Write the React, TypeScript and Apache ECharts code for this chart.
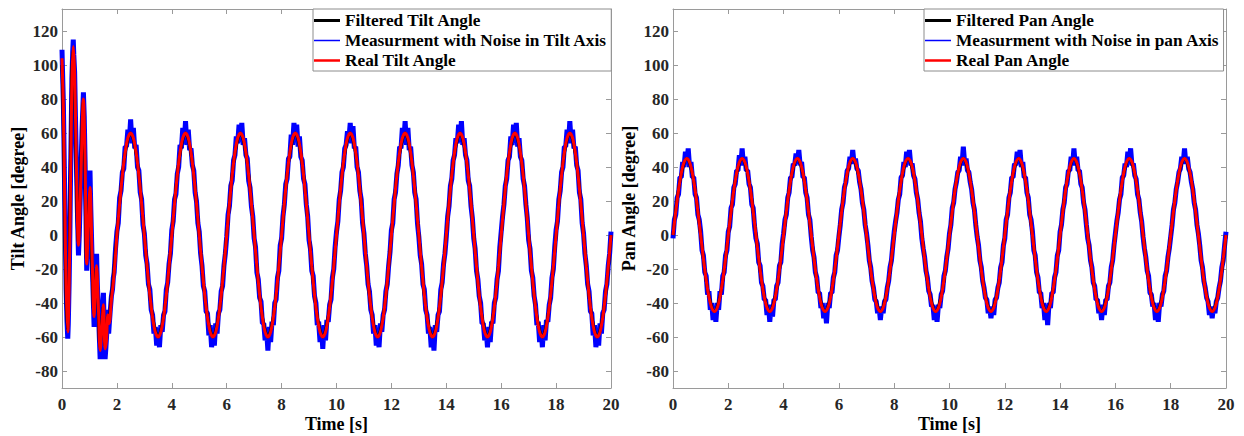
import { useEffect, useRef } from "react";
import * as echarts from "echarts";

// ---------- tick labels ----------
const yTicks = [-80, -60, -40, -20, 0, 20, 40, 60, 80, 100, 120];
const Y_MIN = -90;
const Y_MAX = 133;
const X_MIN = 0;
const X_MAX = 20;
const X_INTERVAL = 2;

// ---------- series names ----------
const tiltNames = ["Filtered Tilt Angle", "Measurment with Noise in Tilt Axis", "Real Tilt Angle"];
const panNames = ["Filtered Pan Angle", "Measurment with Noise in pan Axis", "Real Pan Angle"];

// ---------- sampling grids (seconds) ----------
const REAL_STEP = 0.1;
const FILTERED_STEP = 0.25;
const NOISY_STEP = 0.05;
const TILT_STEADY_START = 2;
const PAN_START = 0;

// ---------- Tilt: transient part (0 - 2 s) ----------
const tiltRealTransientTime = [0, 0.05, 0.1, 0.15, 0.21, 0.26, 0.31, 0.36, 0.41, 0.46, 0.52, 0.6, 0.68, 0.78, 0.84, 0.9, 0.96, 1.02, 1.1, 1.17, 1.22, 1.26, 1.32, 1.39, 1.45, 1.51, 1.57, 1.62, 1.67, 1.72, 1.8, 1.87, 1.95];
const tiltRealTransient = [104, 75, 20, -30, -57, -30, 30, 90, 111, 95, 45, -6, 30, 80, 45, -17, 5, 28, -15, -48, -30, -18, -40, -68, -55, -41, -67, -62, -47, -52, -38, -28, -12];

const tiltFilteredTransientTime = [0, 0.04, 0.09, 0.14, 0.2, 0.25, 0.3, 0.35, 0.4, 0.45, 0.51, 0.59, 0.67, 0.77, 0.83, 0.89, 0.95, 1.01, 1.09, 1.16, 1.21, 1.25, 1.31, 1.38, 1.44, 1.5, 1.56, 1.61, 1.66, 1.71, 1.79, 1.86, 1.94];
const tiltFilteredTransient = [100, 72, 16, -34, -56, -27, 33, 92, 109, 92, 42, -4, 32, 78, 42, -15, 7, 26, -17, -46, -29, -19, -42, -66, -53, -42, -65, -60, -48, -50, -37, -27, -11];

const tiltNoisyTransientTime = [0, 0.02, 0.05, 0.08, 0.1, 0.13, 0.15, 0.18, 0.21, 0.23, 0.26, 0.29, 0.31, 0.34, 0.36, 0.39, 0.41, 0.43, 0.46, 0.49, 0.52, 0.56, 0.6, 0.63, 0.68, 0.73, 0.78, 0.81, 0.84, 0.87, 0.9, 0.93, 0.96, 1.0, 1.02, 1.05, 1.1, 1.14, 1.17, 1.2, 1.23, 1.26, 1.29, 1.32, 1.36, 1.39, 1.42, 1.45, 1.48, 1.51, 1.54, 1.57, 1.6, 1.63, 1.67, 1.7, 1.72, 1.76, 1.8, 1.84, 1.87, 1.9, 1.95];
const tiltNoisyTransient = [109, 96, 78, 45, 22, -8, -32, -50, -61, -52, -28, 5, 33, 68, 92, 108, 115, 106, 96, 70, 46, 15, -12, 0, 32, 62, 84, 70, 44, 15, -21, -5, 8, 30, 38, 15, -16, -38, -54, -40, -28, -11, -30, -42, -60, -73, -62, -52, -42, -34, -55, -73, -66, -58, -44, -58, -53, -44, -36, -32, -25, -22, -8];

// ---------- Tilt: steady part (from 2 s) ----------
const tiltRealSteady = [
  0, 18.5, 35.3, 48.5, 57.1, 60, 57.1, 48.5, 35.3, 18.5, 0, -18.5, -35.3, -48.5, -57.1, -60, -57.1, -48.5, -35.3, -18.5,
  0, 18.5, 35.3, 48.5, 57.1, 60, 57.1, 48.5, 35.3, 18.5, 0, -18.5, -35.3, -48.5, -57.1, -60, -57.1, -48.5, -35.3, -18.5,
  0, 18.5, 35.3, 48.5, 57.1, 60, 57.1, 48.5, 35.3, 18.5, 0, -18.5, -35.3, -48.5, -57.1, -60, -57.1, -48.5, -35.3, -18.5,
  0, 18.5, 35.3, 48.5, 57.1, 60, 57.1, 48.5, 35.3, 18.5, 0, -18.5, -35.3, -48.5, -57.1, -60, -57.1, -48.5, -35.3, -18.5,
  0, 18.5, 35.3, 48.5, 57.1, 60, 57.1, 48.5, 35.3, 18.5, 0, -18.5, -35.3, -48.5, -57.1, -60, -57.1, -48.5, -35.3, -18.5,
  0, 18.5, 35.3, 48.5, 57.1, 60, 57.1, 48.5, 35.3, 18.5, 0, -18.5, -35.3, -48.5, -57.1, -60, -57.1, -48.5, -35.3, -18.5,
  0, 18.5, 35.3, 48.5, 57.1, 60, 57.1, 48.5, 35.3, 18.5, 0, -18.5, -35.3, -48.5, -57.1, -60, -57.1, -48.5, -35.3, -18.5,
  0, 18.5, 35.3, 48.5, 57.1, 60, 57.1, 48.5, 35.3, 18.5, 0, -18.5, -35.3, -48.5, -57.1, -60, -57.1, -48.5, -35.3, -18.5,
  0, 18.5, 35.3, 48.5, 57.1, 60, 57.1, 48.5, 35.3, 18.5, 0, -18.5, -35.3, -48.5, -57.1, -60, -57.1, -48.5, -35.3, -18.5,
  0,
];

const tiltFilteredSteady = [
  0, 42.4, 60, 42.4, 0, -42.4, -60, -42.4,
  0, 42.4, 60, 42.4, 0, -42.4, -60, -42.4,
  0, 42.4, 60, 42.4, 0, -42.4, -60, -42.4,
  0, 42.4, 60, 42.4, 0, -42.4, -60, -42.4,
  0, 42.4, 60, 42.4, 0, -42.4, -60, -42.4,
  0, 42.4, 60, 42.4, 0, -42.4, -60, -42.4,
  0, 42.4, 60, 42.4, 0, -42.4, -60, -42.4,
  0, 42.4, 60, 42.4, 0, -42.4, -60, -42.4,
  0, 42.4, 60, 42.4, 0, -42.4, -60, -42.4,
  0,
];

const tiltNoisySteady = [
  2, 7, 22, 26, 37, 39, 52, 52, 62, 55, 68, 54, 63, 51, 53, 40, 38, 25, 21, 6,
  1, -12, -17, -29, -32, -44, -47, -58, -54, -65, -55, -66, -53, -57, -47, -45, -32, -28, -17, -11,
  3, 8, 21, 24, 36, 40, 53, 51, 63, 54, 67, 53, 62, 50, 51, 41, 38, 25, 20, 7,
  2, -11, -18, -30, -33, -45, -46, -59, -53, -66, -56, -65, -52, -58, -46, -44, -33, -30, -18, -11,
  -1, 12, 17, 29, 32, 44, 47, 58, 54, 65, 55, 66, 53, 57, 47, 45, 32, 28, 17, 11,
  -2, -7, -22, -26, -37, -39, -52, -52, -62, -55, -68, -54, -63, -51, -53, -40, -38, -25, -21, -6,
  -2, 11, 18, 30, 33, 45, 46, 59, 53, 66, 56, 65, 52, 58, 46, 44, 33, 30, 18, 11,
  -3, -8, -21, -24, -36, -40, -53, -51, -63, -54, -67, -53, -62, -50, -51, -41, -38, -25, -20, -7,
  2, 8, 21, 26, 37, 40, 51, 53, 61, 56, 66, 54, 64, 51, 52, 40, 37, 26, 21, 7,
  1, -11, -18, -29, -33, -44, -47, -58, -53, -65, -57, -66, -52, -57, -47, -44, -33, -29, -18, -10,
  3, 7, 21, 25, 36, 41, 52, 51, 63, 55, 67, 53, 63, 50, 52, 41, 37, 25, 21, 7,
  -1, -12, -17, -29, -32, -44, -47, -58, -54, -66, -55, -68, -53, -57, -47, -45, -32, -28, -17, -11,
  -1, 11, 17, 29, 33, 44, 47, 57, 54, 65, 55, 67, 53, 57, 47, 44, 32, 29, 17, 10,
  -2, -8, -21, -26, -36, -40, -52, -52, -62, -55, -66, -54, -63, -51, -52, -40, -37, -26, -21, -7,
  2, 11, 18, 29, 33, 44, 46, 58, 53, 65, 56, 66, 52, 57, 46, 44, 33, 29, 18, 10,
  -3, -8, -21, -25, -36, -41, -53, -51, -63, -54, -66, -53, -62, -50, -51, -41, -37, -25, -20, -7,
  3, 8, 21, 26, 37, 40, 52, 52, 62, 54, 67, 54, 62, 51, 52, 41, 38, 25, 21, 7,
  1, -11, -18, -29, -33, -45, -46, -59, -53, -66, -56, -65, -52, -58, -46, -44, -33, -29, -18, -11,
  2,
];

// ---------- Pan (0 - 20 s) ----------
const panReal = [
  0, 13.9, 26.5, 36.4, 42.8, 45, 42.8, 36.4, 26.5, 13.9, 0, -13.9, -26.5, -36.4, -42.8, -45, -42.8, -36.4, -26.5, -13.9,
  0, 13.9, 26.5, 36.4, 42.8, 45, 42.8, 36.4, 26.5, 13.9, 0, -13.9, -26.5, -36.4, -42.8, -45, -42.8, -36.4, -26.5, -13.9,
  0, 13.9, 26.5, 36.4, 42.8, 45, 42.8, 36.4, 26.5, 13.9, 0, -13.9, -26.5, -36.4, -42.8, -45, -42.8, -36.4, -26.5, -13.9,
  0, 13.9, 26.5, 36.4, 42.8, 45, 42.8, 36.4, 26.5, 13.9, 0, -13.9, -26.5, -36.4, -42.8, -45, -42.8, -36.4, -26.5, -13.9,
  0, 13.9, 26.5, 36.4, 42.8, 45, 42.8, 36.4, 26.5, 13.9, 0, -13.9, -26.5, -36.4, -42.8, -45, -42.8, -36.4, -26.5, -13.9,
  0, 13.9, 26.5, 36.4, 42.8, 45, 42.8, 36.4, 26.5, 13.9, 0, -13.9, -26.5, -36.4, -42.8, -45, -42.8, -36.4, -26.5, -13.9,
  0, 13.9, 26.5, 36.4, 42.8, 45, 42.8, 36.4, 26.5, 13.9, 0, -13.9, -26.5, -36.4, -42.8, -45, -42.8, -36.4, -26.5, -13.9,
  0, 13.9, 26.5, 36.4, 42.8, 45, 42.8, 36.4, 26.5, 13.9, 0, -13.9, -26.5, -36.4, -42.8, -45, -42.8, -36.4, -26.5, -13.9,
  0, 13.9, 26.5, 36.4, 42.8, 45, 42.8, 36.4, 26.5, 13.9, 0, -13.9, -26.5, -36.4, -42.8, -45, -42.8, -36.4, -26.5, -13.9,
  0, 13.9, 26.5, 36.4, 42.8, 45, 42.8, 36.4, 26.5, 13.9, 0, -13.9, -26.5, -36.4, -42.8, -45, -42.8, -36.4, -26.5, -13.9,
  0,
];

const panFiltered = [
  0, 31.8, 45, 31.8, 0, -31.8, -45, -31.8,
  0, 31.8, 45, 31.8, 0, -31.8, -45, -31.8,
  0, 31.8, 45, 31.8, 0, -31.8, -45, -31.8,
  0, 31.8, 45, 31.8, 0, -31.8, -45, -31.8,
  0, 31.8, 45, 31.8, 0, -31.8, -45, -31.8,
  0, 31.8, 45, 31.8, 0, -31.8, -45, -31.8,
  0, 31.8, 45, 31.8, 0, -31.8, -45, -31.8,
  0, 31.8, 45, 31.8, 0, -31.8, -45, -31.8,
  0, 31.8, 45, 31.8, 0, -31.8, -45, -31.8,
  0, 31.8, 45, 31.8, 0, -31.8, -45, -31.8,
  0,
];

const panNoisy = [
  -2, 9, 12, 22, 24, 34, 34, 43, 40, 49, 42, 51, 40, 43, 34, 34, 24, 22, 12, 9,
  2, -9, -12, -22, -24, -35, -33, -44, -40, -50, -42, -51, -40, -44, -33, -35, -24, -22, -12, -9,
  2, 5, 16, 18, 28, 30, 38, 38, 47, 41, 51, 41, 46, 38, 38, 30, 28, 18, 16, 5,
  -2, -5, -16, -18, -28, -30, -38, -38, -47, -41, -51, -41, -48, -38, -38, -30, -28, -18, -16, -5,
  1, 9, 12, 22, 25, 34, 34, 42, 41, 48, 42, 50, 41, 43, 34, 34, 25, 22, 12, 9,
  -1, -9, -13, -22, -25, -34, -34, -43, -40, -49, -42, -52, -40, -43, -34, -34, -25, -22, -12, -9,
  -1, 6, 15, 19, 28, 31, 38, 39, 46, 42, 50, 42, 45, 39, 38, 31, 27, 19, 15, 6,
  1, -6, -15, -19, -27, -31, -38, -39, -46, -42, -50, -42, -46, -39, -38, -31, -27, -19, -15, -6,
  2, 8, 13, 21, 24, 34, 35, 43, 40, 49, 43, 50, 41, 42, 35, 33, 25, 21, 13, 8,
  -2, -8, -13, -21, -25, -33, -35, -42, -41, -50, -42, -51, -41, -43, -35, -33, -24, -21, -13, -8,
  1, 6, 16, 19, 27, 31, 37, 38, 46, 41, 52, 42, 45, 38, 37, 31, 27, 19, 15, 6,
  -1, -6, -15, -19, -27, -31, -37, -38, -46, -42, -49, -42, -47, -38, -37, -31, -28, -19, -16, -6,
  -2, 9, 12, 22, 25, 34, 34, 42, 41, 49, 42, 50, 40, 43, 34, 34, 25, 22, 12, 9,
  2, -9, -12, -22, -25, -34, -34, -43, -40, -50, -41, -53, -40, -43, -34, -34, -25, -22, -12, -9,
  2, 6, 15, 19, 28, 30, 38, 38, 46, 41, 51, 41, 46, 38, 38, 30, 28, 19, 15, 6,
  -2, -6, -15, -19, -28, -30, -38, -38, -46, -42, -50, -41, -47, -38, -38, -30, -28, -19, -15, -6,
  1, 8, 13, 21, 24, 34, 35, 42, 40, 49, 43, 51, 41, 42, 35, 33, 24, 21, 13, 8,
  -1, -8, -13, -21, -24, -34, -35, -42, -40, -50, -43, -51, -40, -42, -35, -33, -24, -21, -13, -8,
  -1, 6, 15, 19, 27, 31, 37, 39, 46, 42, 51, 42, 46, 39, 37, 31, 27, 19, 15, 6,
  1, -6, -15, -19, -27, -31, -37, -39, -47, -42, -49, -42, -46, -39, -37, -31, -27, -19, -15, -6,
  2,
];

// ---------- helpers ----------
const FONT = "'Liberation Serif', 'Times New Roman', serif";
const FRAME = "#9a9a9a";
const LABEL = "#262626";
const ICON_THICK = "path://M0,0H26V3H0Z";
const ICON_MID = "path://M0,0H26V2.5H0Z";
const ICON_THIN = "path://M0,0H26V1.5H0Z";

const pairTimes = (times: number[], vals: number[]) => {
  const n = Math.min(times.length, vals.length);
  const out: number[][] = [];
  for (let i = 0; i < n; i++) out.push([times[i], vals[i]]);
  return out;
};
const pairGrid = (start: number, step: number, vals: number[]) =>
  vals.map((v, i) => [Math.round((start + i * step) * 1000) / 1000, v]);

export default function App() {
  const ref = useRef<HTMLDivElement>(null);

  useEffect(() => {
    if (!ref.current) return;
    const chart = echarts.init(ref.current, undefined, { renderer: "svg" });

    const tiltNoisy = [...pairTimes(tiltNoisyTransientTime, tiltNoisyTransient), ...pairGrid(TILT_STEADY_START, NOISY_STEP, tiltNoisySteady)];
    const tiltFiltered = [...pairTimes(tiltFilteredTransientTime, tiltFilteredTransient), ...pairGrid(TILT_STEADY_START, FILTERED_STEP, tiltFilteredSteady)];
    const tiltReal = [...pairTimes(tiltRealTransientTime, tiltRealTransient), ...pairGrid(TILT_STEADY_START, REAL_STEP, tiltRealSteady)];
    const panNoisyData = pairGrid(PAN_START, NOISY_STEP, panNoisy);
    const panFilteredData = pairGrid(PAN_START, FILTERED_STEP, panFiltered);
    const panRealData = pairGrid(PAN_START, REAL_STEP, panReal);

    const tickLabel = { fontFamily: FONT, fontWeight: "bold" as const, fontSize: 17, color: LABEL };
    const nameStyle = { fontFamily: FONT, fontWeight: "bold" as const, fontSize: 18, color: "#000" };

    const xBottom = (gridIndex: number) => ({
      type: "value",
      gridIndex,
      position: "bottom",
      min: X_MIN,
      max: X_MAX,
      interval: X_INTERVAL,
      name: "Time [s]",
      nameLocation: "middle",
      nameGap: 27,
      nameMoveOverlap: false,
      nameTextStyle: nameStyle,
      axisLine: { show: true, onZero: false, lineStyle: { color: FRAME, width: 1 } },
      axisTick: { show: true, inside: true, length: 5, lineStyle: { color: FRAME } },
      axisLabel: { ...tickLabel, margin: 8 },
      splitLine: { show: false },
    });
    const xTop = (gridIndex: number) => ({
      type: "value",
      gridIndex,
      position: "top",
      min: X_MIN,
      max: X_MAX,
      interval: X_INTERVAL,
      axisLine: { show: true, onZero: false, lineStyle: { color: FRAME, width: 1 } },
      axisTick: { show: true, inside: true, length: 5, lineStyle: { color: FRAME } },
      axisLabel: { show: false },
      splitLine: { show: false },
    });
    const yLeft = (gridIndex: number, name: string) => ({
      type: "value",
      gridIndex,
      position: "left",
      min: Y_MIN,
      max: Y_MAX,
      name,
      nameLocation: "middle",
      nameGap: 35,
      nameMoveOverlap: false,
      nameTextStyle: nameStyle,
      axisLine: { show: true, onZero: false, lineStyle: { color: FRAME, width: 1 } },
      axisTick: { show: true, inside: true, length: 5, customValues: yTicks, lineStyle: { color: FRAME } },
      axisLabel: { ...tickLabel, margin: 4, customValues: yTicks },
      splitLine: { show: false },
    });
    const yRight = (gridIndex: number) => ({
      type: "value",
      gridIndex,
      position: "right",
      min: Y_MIN,
      max: Y_MAX,
      axisLine: { show: true, onZero: false, lineStyle: { color: FRAME, width: 1 } },
      axisTick: { show: true, inside: true, length: 5, customValues: yTicks, lineStyle: { color: FRAME } },
      axisLabel: { show: false, customValues: yTicks },
      splitLine: { show: false },
    });

    const line = (name: string, data: number[][], color: string, width: number, xi: number, yi: number, smooth: number | boolean) => ({
      type: "line",
      name,
      data,
      xAxisIndex: xi,
      yAxisIndex: yi,
      symbol: "none",
      showSymbol: false,
      smooth,
      color,
      itemStyle: { color },
      lineStyle: { color, width },
      emphasis: { disabled: true },
      silent: true,
    });

    const legendBase = {
      orient: "vertical",
      top: 9,
      padding: [3, 4, 2, 1],
      itemGap: 3,
      itemWidth: 26,
      itemHeight: 14,
      symbolKeepAspect: true,
      borderColor: "#8c8c8c",
      borderWidth: 1,
      backgroundColor: "#ffffff",
      selectedMode: false,
      textStyle: { fontFamily: FONT, fontWeight: "bold", fontSize: 17.3, color: "#000" },
    };

    chart.setOption({
      animation: false,
      backgroundColor: "#ffffff",
      grid: [
        { left: 62, top: 9, width: 549, height: 379, outerBoundsMode: "none", containLabel: false },
        { left: 673, top: 9, width: 553, height: 379, outerBoundsMode: "none", containLabel: false },
      ],
      xAxis: [xBottom(0), xTop(0), xBottom(1), xTop(1)],
      yAxis: [yLeft(0, "Tilt Angle [degree]"), yRight(0), yLeft(1, "Pan Angle [degree]"), yRight(1)],
      legend: [
        {
          ...legendBase,
          left: 313,
          data: [
            { name: tiltNames[0], icon: ICON_THICK },
            { name: tiltNames[1], icon: ICON_THIN },
            { name: tiltNames[2], icon: ICON_MID },
          ],
        },
        {
          ...legendBase,
          left: 924,
          data: [
            { name: panNames[0], icon: ICON_THICK },
            { name: panNames[1], icon: ICON_THIN },
            { name: panNames[2], icon: ICON_MID },
          ],
        },
      ],
      series: [
        line(tiltNames[1], tiltNoisy, "#0000ff", 5, 0, 0, false),
        line(tiltNames[0], tiltFiltered, "#000000", 3, 0, 0, 0.33),
        line(tiltNames[2], tiltReal, "#ff0000", 3, 0, 0, 0.33),
        line(panNames[1], panNoisyData, "#0000ff", 5, 2, 2, false),
        line(panNames[0], panFilteredData, "#000000", 3, 2, 2, 0.33),
        line(panNames[2], panRealData, "#ff0000", 3, 2, 2, 0.33),
      ],
    } as any);

    return () => chart.dispose();
  }, []);

  return (
    <div
      ref={ref}
      style={{ position: "fixed", left: 0, top: 0, width: 1244, height: 436, background: "#fff" }}
    />
  );
}
